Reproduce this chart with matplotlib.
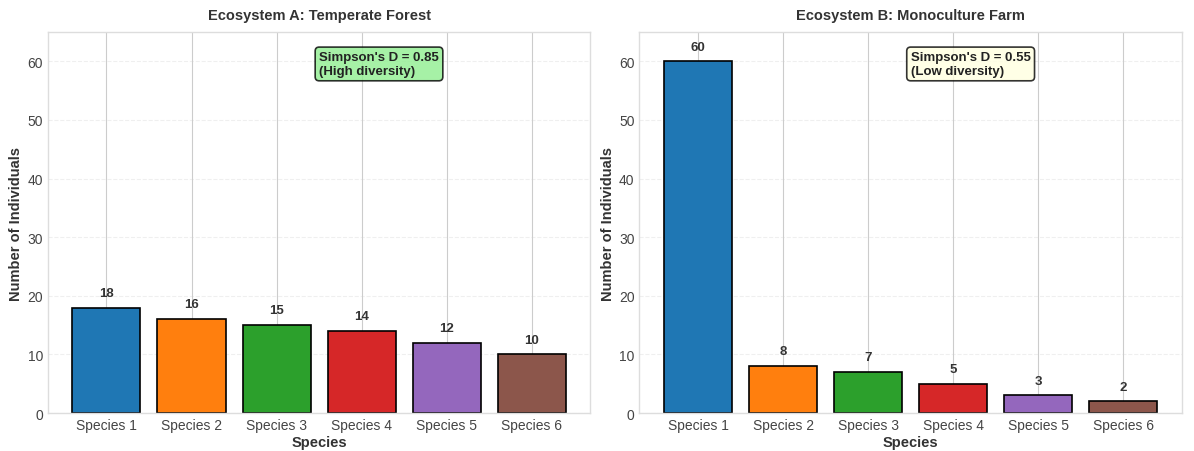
import matplotlib
matplotlib.use('Agg')
import matplotlib.pyplot as plt

species = ['Species 1', 'Species 2', 'Species 3', 'Species 4', 'Species 5', 'Species 6']
forest_counts = [18, 16, 15, 14, 12, 10]
farm_counts = [60, 8, 7, 5, 3, 2]
colors = ['#1f77b4', '#ff7f0e', '#2ca02c', '#d62728', '#9467bd', '#8c564b']


def plot_ecosystem(ax, counts, title, note, box_color):
    bars = ax.bar(species, counts, color=colors, edgecolor='black', linewidth=1.2, width=0.8)
    for bar, val in zip(bars, counts):
        ax.text(bar.get_x() + bar.get_width() / 2, val + 1.5, str(val),
                ha='center', va='bottom', fontsize=9.5, fontweight='bold', color='#333333')
    ax.set_title(title, fontsize=10.5, fontweight='bold', color='#333333', pad=9)
    ax.set_xlabel('Species', fontsize=10.5, fontweight='bold', color='#333333', labelpad=2)
    ax.set_ylabel('Number of Individuals', fontsize=10.5, fontweight='bold', color='#333333', labelpad=3)
    ax.set_ylim(0, 65)
    ax.grid(axis='y', alpha=0.3, linestyle='--')
    ax.tick_params(labelsize=10, colors='#444444')
    ax.text(0.5, 0.95, note, transform=ax.transAxes, ha='left', va='top',
            fontsize=9.5, fontweight='bold', color='#222222',
            bbox=dict(boxstyle='round', facecolor=box_color, alpha=0.8, edgecolor='black', linewidth=1.2))


def main():
    plt.style.use('seaborn-v0_8-whitegrid')
    plt.rcParams['font.family'] = ['Liberation Sans', 'DejaVu Sans']
    fig, axes = plt.subplots(1, 2, figsize=(11.94, 4.52), dpi=100)

    plot_ecosystem(axes[0], forest_counts, 'Ecosystem A: Temperate Forest',
                   "Simpson's D = 0.85\n(High diversity)", 'lightgreen')
    plot_ecosystem(axes[1], farm_counts, 'Ecosystem B: Monoculture Farm',
                   "Simpson's D = 0.55\n(Low diversity)", 'lightyellow')

    for ax in axes:
        for spine in ax.spines.values():
            spine.set_visible(True)
            spine.set_color('#dddddd')

    fig.subplots_adjust(left=0.04, right=0.99, top=0.927, bottom=0.084, wspace=0.09)
    fig.savefig('out.png', dpi=100)


if __name__ == '__main__':
    main()
